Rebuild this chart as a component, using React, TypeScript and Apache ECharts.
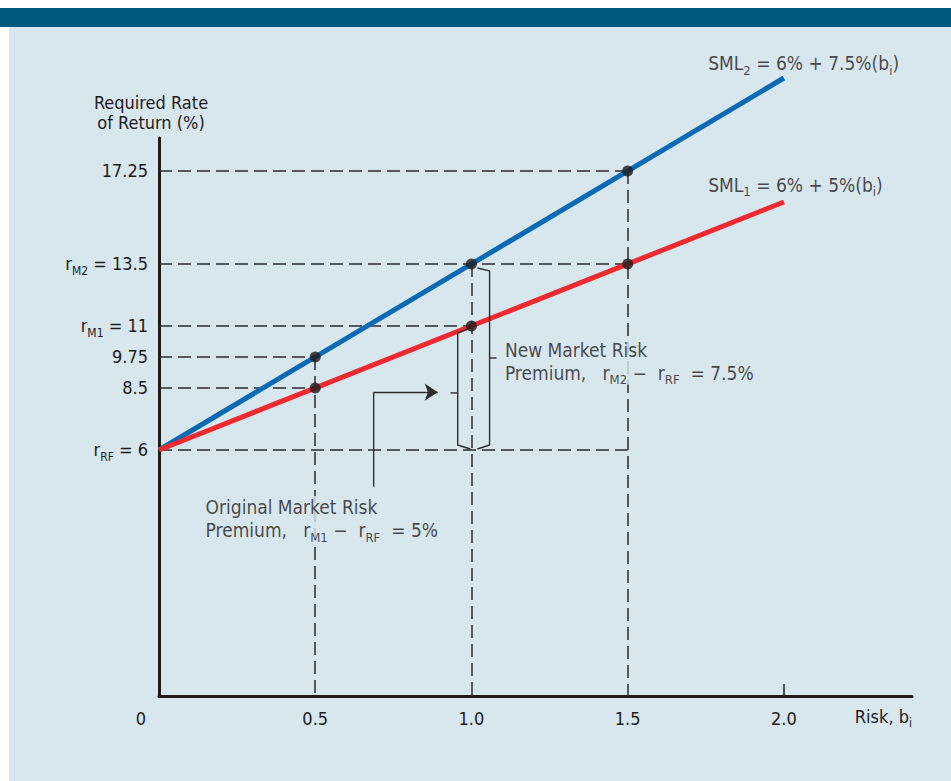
import React, { useEffect, useRef } from "react";
import * as echarts from "echarts";

// ---- data -------------------------------------------------------------
// Security market lines: end points (beta, required return %)
const smlBetas = [0, 2.0];
const sml1Returns = [6, 16];
const sml2Returns = [6, 21];

// Marked points on each line
const pointBetas = [0.5, 1.0, 1.5];
const sml1PointReturns = [8.5, 11, 13.5];
const sml2PointReturns = [9.75, 13.5, 17.25];

// Y-axis tick values and their labels
const yTickValues = [6, 8.5, 9.75, 11, 13.5, 17.25];
const yTickLabels = ["r{s|RF} = 6", "8.5", "9.75", "r{s|M1} = 11", "r{s|M2} = 13.5", "17.25"];

// X-axis tick values and their labels
const xTickValues = [0, 0.5, 1.0, 1.5, 2.0];
const xTickLabels = ["{o|0}", "0.5", "1.0", "1.5", "2.0"];

// Dashed guides: horizontal levels with the beta they run to,
// vertical betas with the return they rise to
const hGuideLevels = [17.25, 13.5, 11, 9.75, 8.5, 6];
const hGuideEnds = [1.5, 1.5, 1.0, 0.5, 0.5, 1.5];
const vGuideBetas = [0.5, 1.0, 1.5];
const vGuideTops = [9.75, 13.5, 17.25];

// Axis extents
const X_MAX = 2.41;
const Y_MIN = -3.92;
const Y_MAX = 18.58;

// Brackets marking the two market risk premiums (beta, return)
const newPremiumBracket = [[1.019, 13.34], [1.058, 13.22], [1.058, 6.2], [1.019, 6.04]];
const newPremiumNub = [[1.058, 9.71], [1.08, 9.71]];
const origPremiumBracket = [[0.997, 10.92], [0.956, 10.72], [0.956, 6.2], [0.997, 6.04]];
const origPremiumNub = [[0.956, 8.3], [0.933, 8.3]];
const arrowShaft = [[0.687, 4.52], [0.687, 8.33]];
const arrowHead = [[0.687, 8.33], [0.892, 8.33]];

// Annotation anchors (left-middle of each text block) and texts
const sml2LabelAt = [1.756, 21.6];
const sml1LabelAt = [1.756, 16.69];
const newPremiumLabelAt = [1.099, 9.57];
const origPremiumLabelAt = [0.141, 3.22];
const NB = "\u00a0";
const sml2Text = "SML{s|2} = 6% + 7.5%(b{s|i})";
const sml1Text = "SML{s|1} = 6% + 5%(b{s|i})";
const premiumLine = (mkt: string, value: string) =>
  "Premium," + NB.repeat(3) + "r{s|" + mkt + "}" + NB + "−" + NB.repeat(2) +
  "r{s|RF}" + NB.repeat(2) + "=" + NB + value;
const newPremiumText = "New Market Risk\n" + premiumLine("M2", "7.5%");
const origPremiumText = "Original Market Risk\n" + premiumLine("M1", "5%");

// ---- styles -----------------------------------------------------------
const FONT = "'DejaVu Sans Condensed', 'Liberation Sans', Arial, sans-serif";
const INK = "#1f1b1c";
const PANEL = "#d8e6ee";
const BAND = "#005a80";
const BLUE = "#0b6ab3";
const RED = "#ec2a2f";

const subStyle = (size: number) => ({
  fontSize: size,
  lineHeight: size,
  padding: [14, 0, 0, 0],
  fontFamily: FONT,
  color: INK,
});

const pairs = (xs: number[], ys: number[]) => xs.map((x, i) => [x, ys[i]]);

function buildOption(): any {
  const guideData = [
    ...hGuideLevels.map((y, i) => ({ coords: [[0, y], [hGuideEnds[i], y]] })),
    ...vGuideBetas.map((x, i) => ({ coords: [[x, vGuideTops[i]], [x, Y_MIN]] })),
  ];

  const bracketSeries = (data: number[][]) => ({
    type: "line",
    data,
    symbol: "none",
    silent: true,
    clip: false,
    z: 5,
    lineStyle: { color: "#2e2e2e", width: 1.4 },
  });

  const annotation = (at: number[], text: string, withBg: boolean) => ({
    value: at,
    label: {
      show: true,
      position: "right",
      distance: 0,
      formatter: text,
      fontFamily: FONT,
      fontSize: 19,
      lineHeight: 23,
      color: INK,
      backgroundColor: withBg ? PANEL : "transparent",
      padding: withBg ? [0, 2, 0, 2] : 0,
      rich: { s: subStyle(13) },
    },
  });

  return {
    animation: false,
    backgroundColor: "#ffffff",
    textStyle: { fontFamily: FONT },
    graphic: [
      { type: "rect", z: -100, shape: { x: 9, y: 27, width: 942, height: 754 }, style: { fill: PANEL } },
      { type: "rect", z: -100, shape: { x: 0, y: 8, width: 951, height: 19 }, style: { fill: BAND } },
    ],
    grid: { left: 159, right: 39, top: 138, bottom: 85, outerBoundsMode: "none" },
    xAxis: {
      type: "value",
      min: 0,
      max: X_MAX,
      splitLine: { show: false },
      axisLine: { onZero: false, lineStyle: { color: INK, width: 3 } },
      axisTick: {
        show: true,
        customValues: [2.0],
        inside: true,
        length: 12,
        lineStyle: { color: INK, width: 1.5 },
      },
      axisLabel: {
        customValues: xTickValues,
        formatter: (v: number) => xTickLabels[xTickValues.indexOf(v)] ?? "",
        margin: 12,
        fontFamily: FONT,
        fontSize: 18,
        lineHeight: 20,
        color: INK,
        rich: { o: { fontSize: 18, fontFamily: FONT, color: INK, padding: [0, 36, 0, 0] } },
      },
      name: "Risk, b{s|i}",
      nameLocation: "end",
      nameGap: 0,
      nameTextStyle: {
        align: "right",
        verticalAlign: "top",
        padding: [8, 0, 0, 0],
        fontFamily: FONT,
        fontSize: 18,
        lineHeight: 24,
        color: INK,
        rich: { s: subStyle(12) },
      },
    },
    yAxis: {
      type: "value",
      min: Y_MIN,
      max: Y_MAX,
      splitLine: { show: false },
      axisLine: { show: true, onZero: false, lineStyle: { color: INK, width: 3 } },
      axisTick: { show: false },
      axisLabel: {
        customValues: yTickValues,
        formatter: (v: number) => yTickLabels[yTickValues.indexOf(v)] ?? "",
        margin: 11,
        fontFamily: FONT,
        fontSize: 18,
        lineHeight: 22,
        color: INK,
        rich: { s: subStyle(12) },
      },
      name: "Required Rate\nof Return (%)",
      nameLocation: "end",
      nameGap: 6,
      nameTextStyle: {
        align: "center",
        verticalAlign: "bottom",
        padding: [0, 16, 0, 0],
        fontFamily: FONT,
        fontSize: 18,
        lineHeight: 20,
        color: INK,
      },
    },
    series: [
      {
        type: "lines",
        coordinateSystem: "cartesian2d",
        silent: true,
        z: 1,
        lineStyle: { color: "#2b2b2b", width: 1.5, type: [13, 6], opacity: 1 },
        data: guideData,
      },
      {
        type: "line",
        name: "SML2",
        data: pairs(smlBetas, sml2Returns),
        symbol: "none",
        clip: false,
        z: 3,
        lineStyle: { color: BLUE, width: 5, cap: "butt" },
      },
      {
        type: "line",
        name: "SML1",
        data: pairs(smlBetas, sml1Returns),
        symbol: "none",
        clip: false,
        z: 4,
        lineStyle: { color: RED, width: 5, cap: "butt" },
      },
      {
        type: "scatter",
        z: 6,
        symbolSize: 11,
        itemStyle: { color: INK },
        data: [...pairs(pointBetas, sml1PointReturns), ...pairs(pointBetas, sml2PointReturns)],
      },
      bracketSeries(newPremiumBracket),
      bracketSeries(newPremiumNub),
      bracketSeries(origPremiumBracket),
      bracketSeries(origPremiumNub),
      bracketSeries(arrowShaft),
      {
        type: "lines",
        coordinateSystem: "cartesian2d",
        silent: true,
        z: 5,
        symbol: ["none", "arrow"],
        symbolSize: 13,
        lineStyle: { color: "#2e2e2e", width: 1.4, opacity: 1 },
        itemStyle: { color: "#1a1a1a" },
        data: [{ coords: arrowHead }],
      },
      {
        type: "scatter",
        z: 7,
        clip: false,
        silent: true,
        symbolSize: 1,
        itemStyle: { color: "rgba(0,0,0,0)" },
        data: [
          annotation(sml2LabelAt, sml2Text, false),
          annotation(sml1LabelAt, sml1Text, false),
          annotation(newPremiumLabelAt, newPremiumText, true),
          annotation(origPremiumLabelAt, origPremiumText, true),
        ],
      },
    ],
  };
}

export default function App() {
  const ref = useRef<HTMLDivElement>(null);
  useEffect(() => {
    if (!ref.current) return;
    const chart = echarts.init(ref.current, null, { renderer: "svg" });
    chart.setOption(buildOption());
    return () => chart.dispose();
  }, []);
  return (
    <div
      ref={ref}
      style={{ position: "fixed", left: 0, top: 0, width: 951, height: 781 }}
    />
  );
}
